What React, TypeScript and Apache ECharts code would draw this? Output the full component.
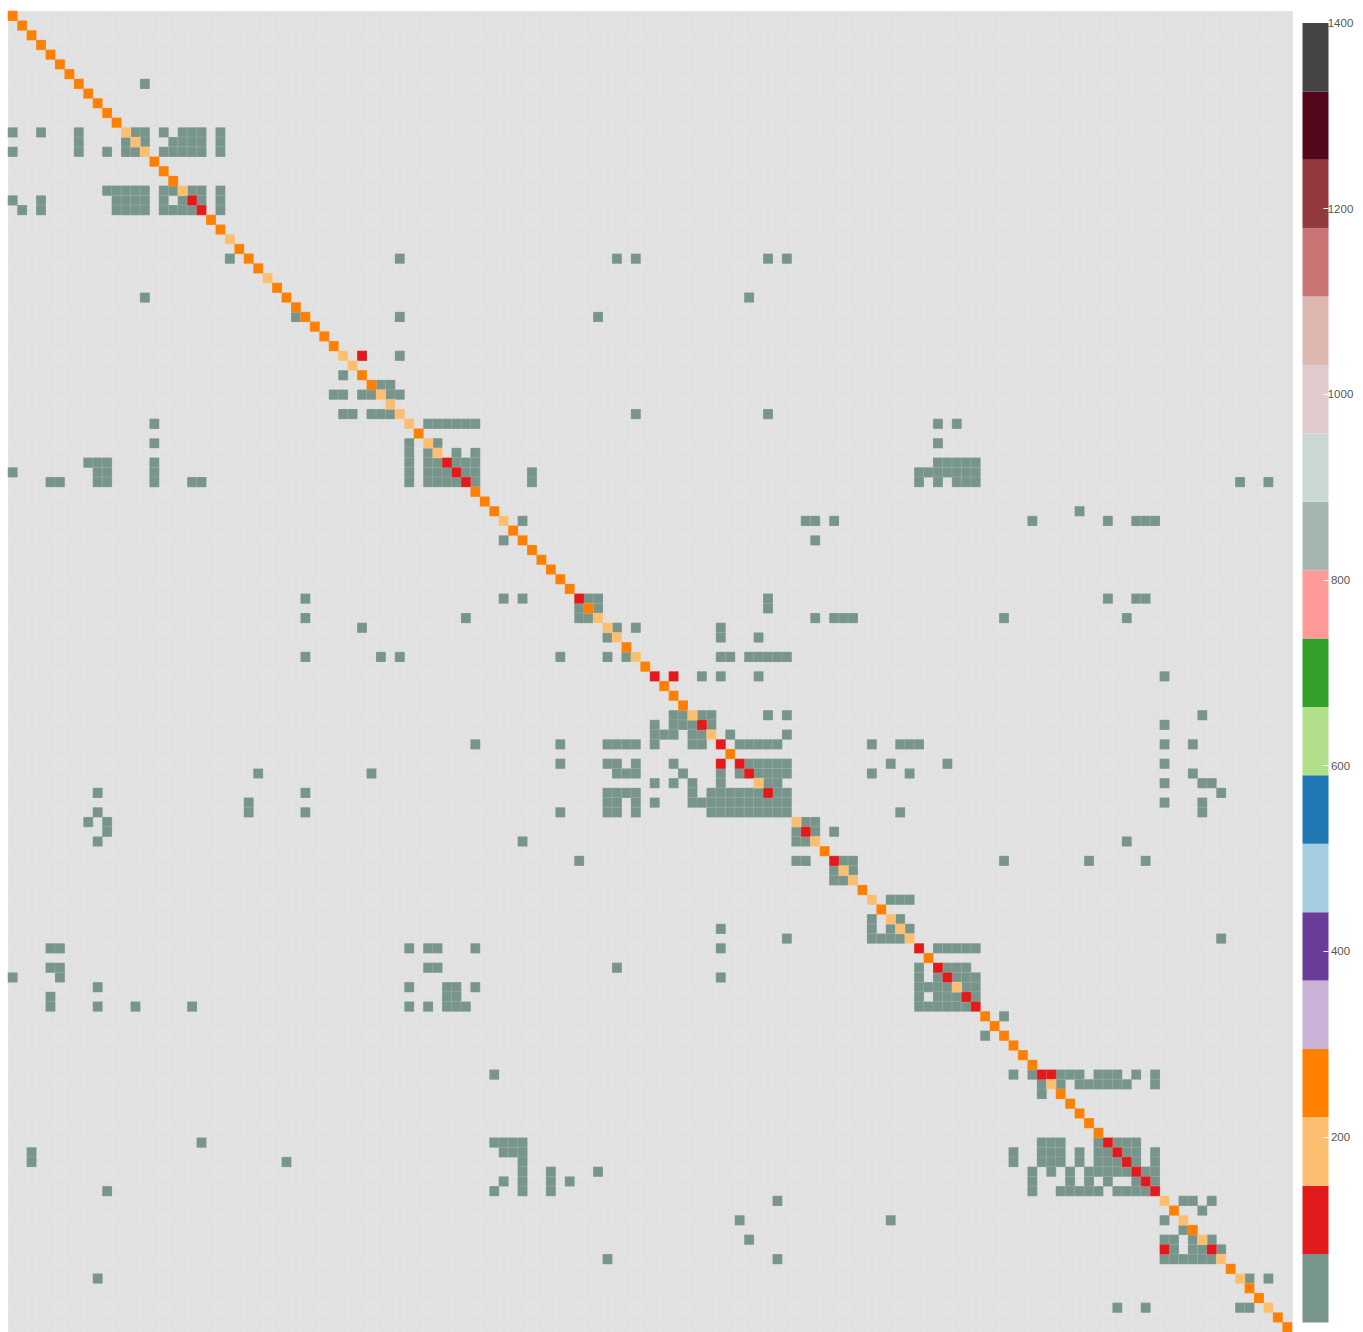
import React, { useEffect, useRef } from "react";
import * as echarts from "echarts";

const cellCount = 136;
const categories: string[] = Array.from({ length: cellCount }, (_, i) => String(i + 1));

// Value read for each colour class (each falls inside one band of the scale)
const grayValue = 40;
const redValue = 110;
const lightOrangeValue = 185;
const orangeValue = 260;

// [row, columns] of the grey-green cells
const grayRows: [number, number[]][] = [
  [7, [14]],
  [12, [0, 3, 7, 13, 14, 16, 18, 19, 20, 22]],
  [13, [7, 12, 14, 17, 18, 19, 20, 22]],
  [14, [0, 7, 10, 12, 13, 16, 17, 18, 19, 20, 22]],
  [18, [10, 11, 12, 13, 14, 16, 17, 19, 20, 22]],
  [19, [0, 3, 11, 12, 13, 14, 16, 18, 20, 22]],
  [20, [1, 3, 11, 12, 13, 14, 16, 17, 18, 19, 22]],
  [25, [23, 41, 64, 66, 80, 82]],
  [29, [14, 78]],
  [31, [30, 41, 62]],
  [35, [41]],
  [37, [35]],
  [38, [39, 40]],
  [39, [34, 35, 37, 38, 40, 41]],
  [41, [35, 36, 38, 39, 40, 66, 80]],
  [42, [15, 44, 45, 46, 47, 48, 49, 98, 100]],
  [44, [15, 42, 45, 98]],
  [45, [42, 44, 47, 49]],
  [46, [8, 9, 10, 15, 42, 44, 45, 47, 48, 49, 98, 99, 100, 101, 102]],
  [47, [0, 9, 10, 15, 42, 44, 45, 46, 48, 49, 55, 96, 97, 98, 99, 100, 101, 102]],
  [48, [4, 5, 9, 10, 15, 19, 20, 42, 44, 45, 46, 47, 49, 55, 96, 98, 100, 101, 102, 130, 133]],
  [51, [113]],
  [52, [54, 84, 85, 87, 108, 116, 119, 120, 121]],
  [54, [52, 85]],
  [60, [31, 52, 54, 61, 62, 80, 116, 119, 120]],
  [61, [60, 62, 80]],
  [62, [31, 48, 60, 61, 85, 87, 88, 89, 105, 118]],
  [63, [37, 64, 66, 75]],
  [64, [63, 75, 79]],
  [66, [31, 39, 41, 58, 63, 65, 75, 76, 78, 79, 80, 81, 82]],
  [68, [73, 75, 79, 122]],
  [72, [70, 71, 73, 74, 80, 82, 126]],
  [73, [68, 70, 71, 72, 74, 122]],
  [74, [68, 69, 70, 72, 73, 76, 82]],
  [75, [49, 58, 63, 64, 65, 66, 68, 72, 73, 77, 78, 79, 80, 81, 91, 94, 95, 96, 122, 125]],
  [77, [58, 63, 64, 66, 70, 78, 79, 80, 81, 82, 93, 99, 122]],
  [78, [26, 38, 64, 65, 66, 71, 75, 77, 79, 80, 81, 82, 91, 95, 125]],
  [79, [68, 70, 72, 75, 80, 81, 122, 126, 127]],
  [80, [9, 31, 63, 64, 65, 66, 72, 74, 75, 76, 77, 78, 79, 81, 82, 128]],
  [81, [25, 63, 64, 66, 68, 72, 73, 74, 75, 76, 77, 78, 79, 80, 81, 82, 122, 126]],
  [82, [9, 25, 31, 58, 63, 64, 66, 74, 75, 76, 77, 78, 79, 80, 81, 82, 94, 126]],
  [83, [8, 10, 84, 85]],
  [84, [10, 83, 85, 87]],
  [85, [9, 54, 83, 84, 118]],
  [87, [60, 83, 84, 88, 89, 105, 114, 120]],
  [88, [87, 89]],
  [89, [87, 88]],
  [91, [93, 94, 95]],
  [93, [91, 94]],
  [94, [75, 91, 93, 95]],
  [95, [82, 91, 92, 93, 94, 128]],
  [96, [4, 5, 42, 44, 45, 49, 75, 98, 99, 100, 101, 102]],
  [98, [4, 5, 44, 45, 64, 96, 99, 100, 101]],
  [99, [0, 5, 75, 96, 98, 100, 101, 102]],
  [100, [9, 42, 46, 47, 49, 96, 97, 98, 99, 101, 102]],
  [101, [4, 46, 47, 96, 98, 99, 100, 102]],
  [102, [4, 9, 13, 19, 42, 44, 46, 47, 48, 96, 97, 98, 99, 100, 101]],
  [103, [105]],
  [105, [103]],
  [109, [51, 106, 108, 111, 112, 113, 115, 116, 117, 119, 121]],
  [110, [109, 111, 113, 114, 115, 116, 117, 118, 121]],
  [111, [109]],
  [116, [20, 51, 52, 53, 54, 109, 110, 111, 115, 117, 118, 119]],
  [117, [2, 52, 53, 54, 106, 109, 110, 111, 113, 115, 116, 118, 119, 121]],
  [118, [2, 29, 54, 106, 109, 110, 111, 113, 115, 116, 117, 119, 121]],
  [119, [54, 57, 62, 108, 110, 112, 114, 115, 116, 117, 118, 120, 121]],
  [120, [52, 54, 57, 59, 108, 112, 114, 116, 119, 121]],
  [121, [10, 51, 54, 57, 108, 111, 112, 113, 114, 115, 117, 118, 119, 120]],
  [122, [81, 124, 125, 127]],
  [123, [126]],
  [124, [77, 93, 122]],
  [125, [124]],
  [126, [78, 122, 123, 125, 127]],
  [127, [123, 125, 126, 128]],
  [128, [63, 81, 122, 123, 124, 125, 126, 127]],
  [130, [9, 131, 133]],
  [133, [117, 120, 130, 131]],
];

// [column, row] of the red cells
const redCells: [number, number][] = [
  [19, 19], [20, 20], [37, 35], [46, 46], [47, 47], [48, 48], [60, 60], [68, 68], [70, 68],
  [73, 73], [75, 75], [75, 77], [77, 77], [78, 78], [80, 80], [84, 84], [87, 87], [96, 96],
  [98, 98], [99, 99], [101, 101], [102, 102], [109, 109], [110, 109], [116, 116], [117, 117],
  [118, 118], [119, 119], [120, 120], [121, 121], [122, 127], [127, 127],
];

// Diagonal indices by colour
const lightOrangeDiagonal = [
  12, 13, 14, 18, 23, 27, 35, 36, 39, 40, 41, 42, 44, 45, 52, 62, 63, 64, 66, 72, 74, 79, 83, 85,
  88, 89, 91, 93, 94, 95, 100, 110, 122, 124, 126, 128, 130, 133,
];
const orangeDiagonal = [
  0, 1, 2, 3, 4, 5, 6, 7, 8, 9, 10, 11, 15, 16, 17, 21, 22, 24, 25, 26, 28, 29, 30, 31, 32, 33, 34,
  37, 38, 43, 49, 50, 51, 53, 54, 55, 56, 57, 58, 59, 61, 65, 67, 69, 70, 71, 76, 86, 90, 92, 97,
  103, 104, 105, 106, 107, 108, 111, 112, 113, 114, 115, 123, 125, 129, 131, 132, 134, 135,
];

// Colour scale: 19 equal bands from 0 to 1400
const bandColors = [
  "#78958c", "#e31a1c", "#fdbf6f", "#ff7f00", "#cab2d6", "#6a3d9a", "#a6cee3", "#1f78b4", "#b2df8a",
  "#33a02c", "#ff9a99", "#a5b6b1", "#c9d8d1", "#e0ccce", "#ddb8b1", "#c87474", "#933a3f", "#54071a",
  "#454545",
];
const bandSizes = [
  73.68, 73.68, 73.68, 73.68, 73.68, 73.68, 73.68, 73.69, 73.68, 73.68, 73.68, 73.68, 73.69, 73.68,
  73.68, 73.68, 73.68, 73.68, 73.69,
];
const bandEdges = [
  0, 73.68, 147.36, 221.04, 294.72, 368.4, 442.08, 515.77, 589.45, 663.13, 736.81, 810.49, 884.18,
  957.86, 1031.54, 1105.22, 1178.9, 1252.58, 1326.26, 1400,
];
const colorbarTicks = [200, 400, 600, 800, 1000, 1200];

export default function App() {
  const ref = useRef<HTMLDivElement>(null);
  useEffect(() => {
    if (!ref.current) return;
    const chart = echarts.init(ref.current, undefined, { renderer: "svg" });
    const cells: [number, number, number][] = [];
    grayRows.forEach(([row, cols]) => cols.forEach((col) => cells.push([col, row, grayValue])));
    redCells.forEach(([col, row]) => cells.push([col, row, redValue]));
    lightOrangeDiagonal.forEach((i) => cells.push([i, i, lightOrangeValue]));
    orangeDiagonal.forEach((i) => cells.push([i, i, orangeValue]));

    chart.setOption({
      animation: false,
      backgroundColor: "#ffffff",
      grid: [
        { left: 8, top: 11, width: 1284, height: 1321, show: true, backgroundColor: "#e1e1e1", borderWidth: 0 },
        { left: 1302.5, top: 23, width: 26, height: 1299.5 },
      ],
      xAxis: [
        {
          type: "category",
          gridIndex: 0,
          data: categories,
          axisLine: { show: false },
          axisTick: { show: false },
          axisLabel: { show: false },
          splitLine: { show: true, interval: 0, lineStyle: { color: "#e5e5e5", width: 1 } },
        },
        {
          type: "category",
          gridIndex: 1,
          data: ["scale"],
          axisLine: { show: false },
          axisTick: { show: false },
          axisLabel: { show: false },
        },
      ],
      yAxis: [
        {
          type: "category",
          gridIndex: 0,
          inverse: true,
          data: categories,
          axisLine: { show: false },
          axisTick: { show: false },
          axisLabel: { show: false },
          splitLine: { show: true, interval: 0, lineStyle: { color: "#e5e5e5", width: 1 } },
        },
        {
          type: "value",
          gridIndex: 1,
          position: "right",
          min: 0,
          max: 1400,
          interval: 200,
          z: 10,
          axisLine: { show: false },
          axisTick: {
            show: true,
            inside: true,
            length: 5,
            customValues: colorbarTicks,
            lineStyle: { color: "#ffffff", width: 1 },
          },
          splitLine: { show: false },
          axisLabel: {
            show: true,
            margin: 12,
            align: "center",
            color: "#555555",
            fontSize: 11.5,
            fontFamily: "Liberation Sans",
            formatter: (v: number) => (v === 0 ? "" : String(v)),
          },
        },
      ],
      visualMap: {
        show: false,
        type: "piecewise",
        seriesIndex: 0,
        dimension: 2,
        pieces: bandColors.map((color, i) => ({ gte: bandEdges[i], lt: bandEdges[i + 1], color })),
      },
      series: [
        {
          type: "heatmap",
          xAxisIndex: 0,
          yAxisIndex: 0,
          data: cells,
          itemStyle: { borderWidth: 0.8, borderColor: "rgba(232,232,232,0.22)" },
          emphasis: { disabled: true },
        },
        ...bandColors.map((color, i) => ({
          type: "bar",
          xAxisIndex: 1,
          yAxisIndex: 1,
          stack: "scale",
          barWidth: "100%",
          data: [bandSizes[i]],
          itemStyle: { color },
          silent: true,
        })),
      ],
    });
    return () => chart.dispose();
  }, []);
  return (
    <div
      ref={ref}
      style={{ position: "absolute", left: 0, top: 0, width: 1363, height: 1332 }}
    />
  );
}
